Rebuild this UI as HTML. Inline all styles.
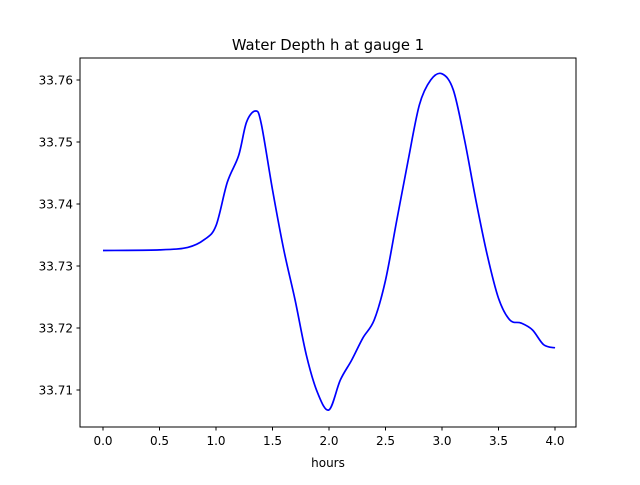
<!DOCTYPE html>
<html><head><meta charset="utf-8"><style>
body{margin:0;background:#fff}
svg text{font-family:"DejaVu Sans","Liberation Sans",sans-serif;fill:#000}
</style></head><body>
<svg id="chart" width="640" height="480" xmlns="http://www.w3.org/2000/svg">
<rect width="640" height="480" fill="#fff"/>
<text x="328" y="50" font-size="14.8" text-anchor="middle">Water Depth h at gauge 1</text>
<g id="plot"></g>
<rect x="80" y="58" width="496" height="369" fill="none" stroke="#000" stroke-width="1"/>
<text x="328" y="467" font-size="12" text-anchor="middle">hours</text>
</svg>
<script>
const hours=[0,0.5,0.75,0.9,1.0,1.1,1.2,1.27,1.35,1.4,1.5,1.6,1.7,1.8,1.9,2.0,2.1,2.2,2.3,2.4,2.5,2.6,2.7,2.8,2.9,3.0,3.1,3.2,3.3,3.4,3.5,3.6,3.7,3.8,3.9,4.0];
const depth=[33.7325,33.7326,33.733,33.7343,33.7365,33.7435,33.7478,33.7532,33.755,33.753,33.7423,33.7326,33.7245,33.7156,33.7095,33.7068,33.7116,33.7148,33.7184,33.7213,33.7277,33.7374,33.747,33.756,33.76,33.761,33.7584,33.7503,33.7406,33.7318,33.7248,33.7213,33.7208,33.7197,33.7173,33.7168];
const xTicks=[0,0.5,1,1.5,2,2.5,3,3.5,4];
const yTicks=[33.71,33.72,33.73,33.74,33.75,33.76];
const xs=v=>103+v*113;
const ys=v=>266-(v-33.73)*6200;
const g=document.getElementById('plot');
const NS='http://www.w3.org/2000/svg';
function mk(t,a){const e=document.createElementNS(NS,t);for(const k in a)e.setAttribute(k,a[k]);g.appendChild(e);return e;}
xTicks.forEach(v=>{
 const l=mk('line',{x1:xs(v),x2:xs(v),y1:427,y2:430.5,stroke:'#000'});
 
 
 const t=mk('text',{x:xs(v),y:445,'font-size':12,'text-anchor':'middle'});t.textContent=v.toFixed(1);
 
 
});
yTicks.forEach(v=>{
 const l=mk('line',{x1:76.5,x2:80,y1:ys(v),y2:ys(v),stroke:'#000'});
 
 
 const t=mk('text',{x:73,y:ys(v)+4.5,'font-size':12,'text-anchor':'end'});t.textContent=v.toFixed(2);
 
 
});
const pts=hours.map((h,i)=>[xs(h),ys(depth[i])]);
let d='M'+pts[0][0]+','+pts[0][1];
for(let i=0;i<pts.length-1;i++){
 const p0=pts[Math.max(0,i-1)],p1=pts[i],p2=pts[i+1],p3=pts[Math.min(pts.length-1,i+2)];
 const c1=[p1[0]+(p2[0]-p0[0])/6,p1[1]+(p2[1]-p0[1])/6],c2=[p2[0]-(p3[0]-p1[0])/6,p2[1]-(p3[1]-p1[1])/6];
 d+=` C${c1[0]},${c1[1]} ${c2[0]},${c2[1]} ${p2[0]},${p2[1]}`;
}
const line=mk('path',{d:d,fill:'none',stroke:'#0000ff','stroke-width':1.7});


</script>
</body></html>
